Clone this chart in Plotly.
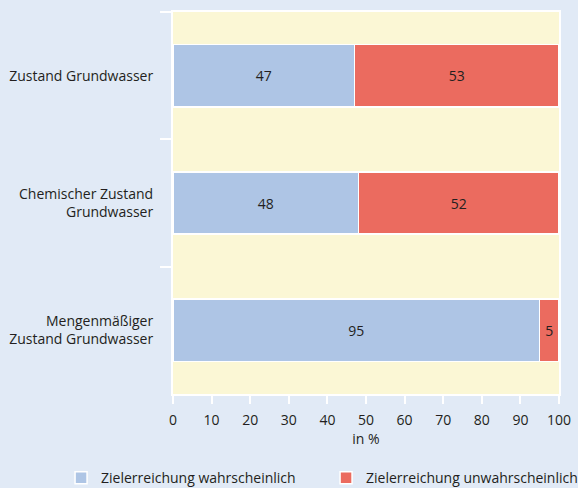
import plotly.graph_objects as go

categories = ["Zustand Grundwasser", "Chemischer Zustand<br>Grundwasser", "Mengenmäßiger<br>Zustand Grundwasser"]
likely = [47, 48, 95]
unlikely = [53, 52, 5]
series_names = ["Zielerreichung wahrscheinlich", "Zielerreichung unwahrscheinlich"]
x_ticks = list(range(0, 101, 10))

FONT = "Open Sans"
TXT = "#231f20"

fig = go.Figure()
fig.add_trace(go.Bar(
    y=categories, x=likely, orientation="h", name=series_names[0],
    marker=dict(color="#aec5e5", line=dict(color="white", width=1.5)),
    text=[str(v) for v in likely], textposition="inside", insidetextanchor="middle",
    textfont=dict(family=FONT, size=14, color=TXT), width=0.49,
))
fig.add_trace(go.Bar(
    y=categories, x=unlikely, orientation="h", name=series_names[1],
    marker=dict(color="#eb6b5f", line=dict(color="white", width=1.5)),
    text=[str(v) for v in unlikely], textposition="inside", insidetextanchor="middle",
    textfont=dict(family=FONT, size=14, color=TXT), width=0.49,
))

fig.update_layout(
    barmode="stack",
    width=578, height=488,
    margin=dict(l=173, r=19, t=12, b=94, autoexpand=False),
    paper_bgcolor="#e1eaf6",
    plot_bgcolor="#fbf7d5",
    font=dict(family=FONT, size=14, color=TXT),
    uniformtext=dict(mode="show", minsize=12),
    legend=dict(orientation="h", x=-0.29, xanchor="left", y=-0.22, yanchor="middle",
                font=dict(family=FONT, size=14, color=TXT),
                itemwidth=30, entrywidth=220, traceorder="normal",
                bgcolor="rgba(0,0,0,0)"),
)
fig.update_xaxes(
    range=[0, 100], tickvals=x_ticks, ticktext=[str(t) for t in x_ticks],
    showgrid=False, zeroline=False,
    showline=True, linecolor="white", linewidth=2, mirror=True,
    ticks="outside", ticklen=8, tickwidth=2, tickcolor="white",
    ticklabelstandoff=4,
    title=dict(text="in %", standoff=4, font=dict(family=FONT, size=14, color=TXT)),
    tickfont=dict(family=FONT, size=14, color=TXT),
)
fig.update_yaxes(
    autorange="reversed", showgrid=False, zeroline=False,
    showline=True, linecolor="white", linewidth=2, mirror=True,
    ticks="outside", tickson="boundaries", ticklen=11, tickwidth=2, tickcolor="white",
    tickfont=dict(family=FONT, size=14, color=TXT), ticklabelstandoff=15,
)

fig.write_html("out.html")
